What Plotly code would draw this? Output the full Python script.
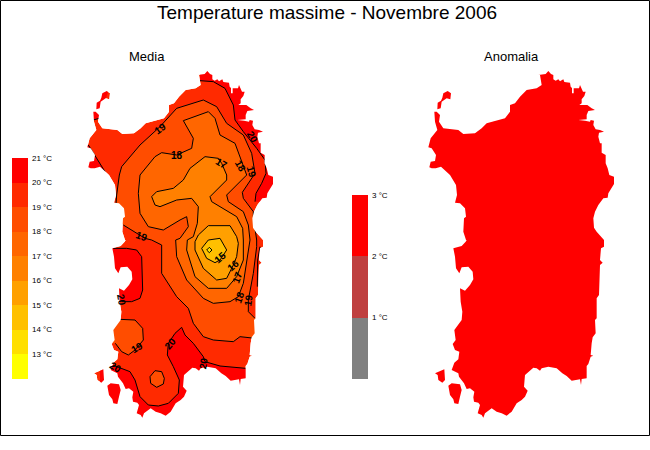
import plotly.graph_objects as go

TITLE = "Temperature massime - Novembre 2006"
# ---- legend data
MEDIA_LEVELS = [21, 20, 19, 18, 17, 16, 15, 14, 13]
MEDIA_COLORS = ["#FF0000", "#FF2A00", "#FF4D00", "#FF6600", "#FF8000", "#FFA000", "#FFC000", "#FFDF00", "#FFFF00"]
ANOM_LEVELS = [3, 2, 1]
ANOM_COLORS = ["#FF0000", "#BF4040", "#808080"]

# ---- coastline (map units = 1/3 pixel)
COAST_NORTH_E = [(340,45),(362,42),(370,33),(378,42),(385,45),(385,58),(392,62),(400,58),(405,64),(415,58),(418,66),(435,68),(437,80),(441,84),(441,100),(446,100),(446,85),(462,85),(465,75),(470,85),(474,95),(482,95),(478,108),(470,118),(470,130),(463,135),(487,135),(500,145),(510,150),(490,153),(485,165),(485,178),(460,180),(480,182),(495,185),(497,180),(507,182),(505,195),(512,208),(525,210),(537,215),(522,218),(520,230),(525,250),(530,250),(530,278),(542,285),(542,310),(548,325),(553,345),(567,350),(567,372),(558,385),(550,400),(548,413),(535,415),(520,435),(510,455),(505,475),(507,503),(515,515),(533,535)]
COAST_SOUTH = [(537,0),(537,20),(528,25),(525,60),(533,68),(525,75),(522,130),(522,165),(515,175),(515,235),(510,240),(512,280),(503,292),(500,310),(497,345),(505,347),(497,350),(490,372),(485,378),(485,415),(470,417),(468,435),(465,418),(455,420),(440,422),(425,408),(412,400),(395,385),(370,380),(350,385),(345,392),(335,385),(325,383),(300,405),(297,440),(308,452),(300,470),(290,480),(275,490),(260,515),(245,527),(230,520),(215,515),(200,505),(187,515),(180,520),(175,533),(170,525),(158,520),(165,495),(160,488),(147,485),(145,472),(148,455),(135,445),(125,447),(117,430),(102,410),(100,400),(80,390),(88,368),(100,358),(103,335),(90,330),(83,312),(92,300),(88,270),(103,250),(110,240),(112,215),(107,185),(105,145),(120,152),(135,135),(145,118),(143,95),(130,80),(110,82),(103,100),(93,85),(90,50),(85,25),(110,18),(122,5),(125,0)]
COAST_NORTH_W = [(123,540),(115,515),(117,475),(123,470),(120,445),(105,430),(90,428),(96,405),(93,375),(75,345),(55,325),(48,320),(32,325),(20,325),(13,322),(17,305),(30,303),(33,285),(20,265),(10,262),(17,235),(25,225),(37,210),(30,185),(28,155),(35,155),(45,165),(42,185),(55,205),(100,210),(115,222),(150,220),(170,205),(185,190),(215,183),(240,175),(255,155),(255,135),(270,130),(285,110),(305,90),(335,85),(350,75),(345,45)]
ASINARA = [(52,113),(55,100),(68,93),(78,100),(76,118),(65,115),(50,125),(47,145),(37,148),(38,128),(48,122)]
SAN_PIETRO = [(30,400),(42,395),(58,388),(60,420),(52,428),(40,420),(38,405)]
SANT_ANTIOCO = [(70,437),(80,430),(105,433),(110,450),(105,470),(100,492),(88,490),(85,478),(75,465),(72,445)]

# ---- contours of the Media map (A = upper crop, B = lower crop, y + 540)
L19 = [(108,430),(110,405),(118,345),(125,320),(180,255),(240,200),(290,145),(370,120),(410,140),(440,190),(490,225),(515,280),(525,340),(487,397),(490,415),(520,455),(520,470),(530,540),(530,560),(520,640),(505,720),(505,755),(525,775)]
L19_S = [(525,835),(480,830),(460,845),(400,840),(370,830),(340,790),(325,745),(290,710),(245,640),(245,555),(215,540),(195,535),(130,495)]
L18 = [(310,182),(385,155),(405,175),(420,225),(465,250),(480,290),(500,345),(440,405),(445,425),(490,455),(505,495),(510,540),(500,600),(490,670),(475,710),(450,725),(400,730),(370,715),(320,660),(290,590),(287,540),(300,535),(325,500),(320,470),(300,480),(250,510),(205,500),(180,460),(175,400),(180,345),(225,290),(245,278),(290,285),(335,265),(340,235),(310,182)]
L17 = [(375,290),(415,295),(425,310),(440,345),(440,360),(390,410),(395,425),(435,450),(470,470),(488,505),(490,540),(490,600),(470,650),(440,685),(385,685),(345,650),(320,570),(322,540),(340,530),(352,490),(355,440),(335,415),(290,420),(240,440),(225,435),(215,410),(230,395),(280,385),(310,360),(330,325),(375,290)]
L16 = [(385,497),(450,497),(470,530),(475,550),(470,590),(460,615),(440,655),(410,660),(370,625),(345,570),(345,545),(355,525),(385,497)]
L15 = [(365,565),(385,540),(420,535),(440,570),(420,600),(405,608),(380,595),(365,565)]
L14 = [(380,570),(388,562),(396,570),(388,578),(380,570)]
SW_LOBE = [(120,778),(165,780),(188,805),(190,840),(165,870),(145,885),(125,875),(106,850)]
S_RING = [(210,950),(225,932),(245,935),(253,955),(250,972),(230,982),(212,970),(210,950)]
L20_NE = [(360,62),(400,65),(435,85),(460,135),(465,180),(490,215),(530,265),(555,300),(558,340),(545,370),(528,400),(525,425)]
L20_NW = [(25,255),(50,295),(75,335)]
L20_AS = [(40,180),(57,175)]
L20_ORI = [(100,565),(140,565),(170,570),(185,590),(188,690),(180,715),(155,725),(125,725)]
L20_E = [(540,560),(533,600),(532,680)]
L20_S1 = [(497,925),(470,922),(420,918),(375,905),(370,890),(340,850),(315,825),(305,802),(285,820),(265,850),(262,885),(280,920),(298,960),(295,1000),(265,1030),(235,1038),(205,1035),(180,1010),(165,960),(150,935),(125,925),(100,916)]

# ---- contour labels (text, x px, y px, rotation)
LABEL_TEXT = ["19","18","17","18","19","20","19","15","16","17","18","19","19","20","20","20","20"]
LABEL_X = [160,177,222,241,252,253,142,220,233,237,239,248,137,170,116,122,203]
LABEL_Y = [128,155,163,166,172,137,236,257,265,277,297,300,347,343,367,300,363]
LABEL_ROT = [-35,0,30,60,75,60,20,-40,-40,-70,-70,-80,-30,-50,30,80,-80]

SUBTITLES = ["Media", "Anomalia"]


def left(p):
    return [80 + q[0] / 3 for q in p], [60 + q[1] / 3 for q in p]


def coast_crop():
    """Coast in right-map crop units, with a common y origin."""
    south = [(a, b + 540) for a, b in COAST_SOUTH]
    return COAST_NORTH_E + south + COAST_NORTH_W, ASINARA, [(a, b + 540) for a, b in SAN_PIETRO], [(a, b + 540) for a, b in SANT_ANTIOCO]


def join(polys, ox):
    xs, ys = [], []
    for poly in polys:
        xs += [ox + a / 3 for a, b in poly] + [ox + poly[0][0] / 3, None]
        ys += [60 + b / 3 for a, b in poly] + [60 + poly[0][1] / 3, None]
    return xs, ys


fig = go.Figure()


def fill(poly, color):
    x, y = left(poly)
    fig.add_trace(go.Scatter(x=x, y=y, mode="lines", fill="toself", fillcolor=color,
                             line=dict(width=0, color=color), hoverinfo="skip", showlegend=False))


def line(poly):
    x, y = left(poly)
    fig.add_trace(go.Scatter(x=x, y=y, mode="lines", line=dict(width=1, color="black"),
                             hoverinfo="skip", showlegend=False))


coast = coast_crop()
cx, cy = join(coast, 84)
# base colour of the Media map
fig.add_trace(go.Scatter(x=cx, y=cy, mode="lines", fill="toself", fillcolor=MEDIA_COLORS[1],
                         line=dict(width=0, color=MEDIA_COLORS[1]), hoverinfo="skip", showlegend=False))
# warm edges
fill(L20_NE + [(640,425),(640,0),(360,0)], MEDIA_COLORS[0])
fill(L20_NW + [(60,350),(0,350),(0,255)], MEDIA_COLORS[0])
fill(L20_AS + [(100,50),(0,50),(0,180)], MEDIA_COLORS[0])
fill(L20_ORI + [(70,730),(70,560)], MEDIA_COLORS[0])
fill(L20_S1 + [(60,916),(60,1085),(640,1085),(640,925)], MEDIA_COLORS[0])
# nested bands
fill(L19 + [(560,790),(560,830)] + L19_S + [(90,460),(90,430)], MEDIA_COLORS[2])
fill(SW_LOBE + [(70,850),(70,778)], MEDIA_COLORS[2])
fill(S_RING, MEDIA_COLORS[2])
fill(L18, MEDIA_COLORS[3])
fill(L17, MEDIA_COLORS[4])
fill(L16, MEDIA_COLORS[5])
fill(L15, MEDIA_COLORS[6])
fill(L14, MEDIA_COLORS[7])
# contour lines
for poly in [L19, L19_S, L18, L17, L16, L15, L14, SW_LOBE, S_RING, L20_NE, L20_NW, L20_AS, L20_ORI, L20_E, L20_S1]:
    line(poly)

# white mask: keeps colours and lines inside the coast
mask_x = [60, 60, 345, 345, 60, None] + cx
mask_y = [55, 425, 425, 55, 55, None] + cy
fig.add_trace(go.Scatter(x=mask_x, y=mask_y, mode="lines", fill="toself", fillcolor="white",
                         line=dict(width=0, color="white"), hoverinfo="skip", showlegend=False))

# Anomalia map
rx, ry = join(coast, 425)
fig.add_trace(go.Scatter(x=rx, y=ry, mode="lines", fill="toself", fillcolor="#FF0000",
                         line=dict(width=0, color="#FF0000"), hoverinfo="skip", showlegend=False))

# legend bars
media_y = [379 - (v - 12) * 221 / 9 for v in MEDIA_LEVELS]
fig.add_trace(go.Bar(x=[20] * len(MEDIA_LEVELS), y=[221 / 9] * len(MEDIA_LEVELS), base=media_y, width=16,
                     marker=dict(color=MEDIA_COLORS, line=dict(width=0)), hoverinfo="skip", showlegend=False))
anom_y = [379 - v * 184 / 3 for v in ANOM_LEVELS]
fig.add_trace(go.Bar(x=[360] * len(ANOM_LEVELS), y=[184 / 3] * len(ANOM_LEVELS), base=anom_y, width=16,
                     marker=dict(color=ANOM_COLORS, line=dict(width=0)), hoverinfo="skip", showlegend=False))

ann = [dict(x=327, y=12, text=TITLE, font=dict(size=19, family="Liberation Sans", color="black"), showarrow=False),
       dict(x=147, y=56, text=SUBTITLES[0], font=dict(size=13, family="Liberation Sans", color="black"), showarrow=False),
       dict(x=511, y=56, text=SUBTITLES[1], font=dict(size=13, family="Liberation Sans", color="black"), showarrow=False)]
for v, y in zip(MEDIA_LEVELS, media_y):
    ann.append(dict(x=30, y=y, xanchor="left", text=f"{v} °C", showarrow=False,
                    font=dict(size=8, family="Liberation Sans", color="black")))
for v, y in zip(ANOM_LEVELS, anom_y):
    ann.append(dict(x=370, y=y, xanchor="left", text=f"{v} °C", showarrow=False,
                    font=dict(size=8, family="Liberation Sans", color="black")))
for t, x, y, r in zip(LABEL_TEXT, LABEL_X, LABEL_Y, LABEL_ROT):
    ann.append(dict(x=x, y=y, text=f"<b>{t}</b>", textangle=r, showarrow=False,
                    font=dict(size=10, family="Liberation Sans", color="black")))

fig.update_layout(width=650, height=450, margin=dict(l=0, r=0, t=0, b=0), paper_bgcolor="white",
                  plot_bgcolor="white", barmode="overlay", bargap=0, showlegend=False,
                  xaxis=dict(range=[0, 650], visible=False, fixedrange=True),
                  yaxis=dict(range=[450, 0], visible=False, fixedrange=True),
                  annotations=ann,
                  shapes=[dict(type="rect", x0=0.5, y0=0.5, x1=649.5, y1=435.5, line=dict(color="black", width=1))])
fig.write_html("out.html", config=dict(displayModeBar=False),
               post_script="document.body.style.margin='0';document.body.style.overflow='hidden';")
